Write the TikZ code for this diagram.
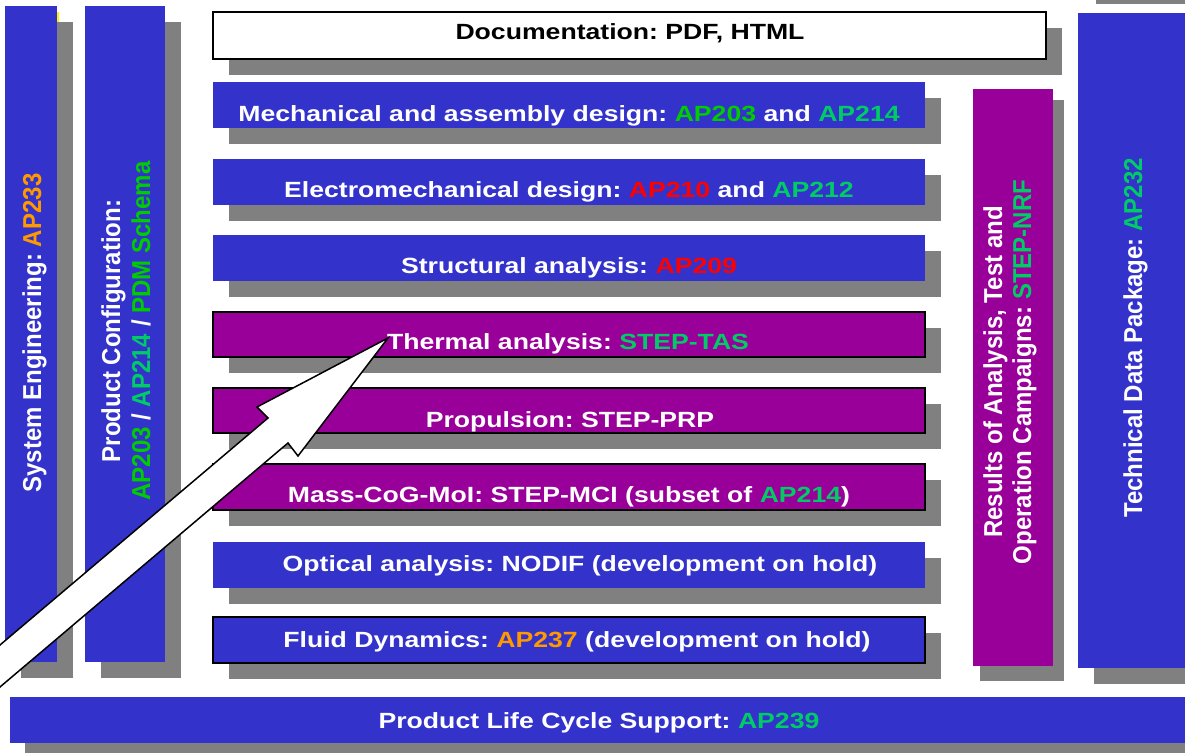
\documentclass[tikz,border=0pt]{standalone}
\usepackage{fontspec}
\setmainfont{Liberation Sans}
\usetikzlibrary{shadows}
\frenchspacing
\definecolor{myblue}{HTML}{3333CC}
\definecolor{mypurple}{HTML}{990099}
\definecolor{shgray}{HTML}{808080}
\definecolor{gA}{HTML}{00CC00}
\definecolor{gB}{HTML}{00CC66}
\definecolor{myorange}{HTML}{FF9900}
\definecolor{myred}{HTML}{FF0000}
\tikzset{
  sh/.style={general shadow={fill=shgray, shadow xshift=16pt, shadow yshift=-16pt}},
  bx/.style={anchor=north west, inner sep=0pt, outer sep=0pt, sh},
  bluebox/.style={bx, fill=myblue},
  purplebox/.style={bx, fill=mypurple},
  edged/.style={draw=black, line width=1.5pt},
  htxt/.style={anchor=base, inner sep=0pt, text=white, xscale=1.21,
    font=\fontsize{22}{26}\selectfont\bfseries},
  vtxt/.style={anchor=base, inner sep=0pt, text=white, rotate=90, yscale=1.08,
    font=\fontsize{24}{28}\selectfont\bfseries},
  bigarrow/.style={fill=white, draw=black, line width=1.5pt, line join=miter}
}
\begin{document}
\begin{tikzpicture}[x=1pt,y=-1pt]
\useasboundingbox (0,0) rectangle (1185,752);
\clip (0,0) rectangle (1185,752);
% stray details at the edges
\fill[shgray] (1096,-5) rectangle (1190,4);
\fill[yellow] (57,12) rectangle (59,22);
% left columns
\node[bluebox, minimum width=52pt, minimum height=656pt] (col1) at (5,6) {};
\node[bluebox, minimum width=80pt, minimum height=656pt] (col2) at (85,6) {};
% rows
\node[bx, fill=white, edged, minimum width=833pt, minimum height=47pt] (doc) at (213,12) {};
\node[bluebox, minimum width=712pt, minimum height=46pt] (mech) at (213,82) {};
\node[bluebox, minimum width=712pt, minimum height=46pt] (elec) at (213,159) {};
\node[bluebox, minimum width=712pt, minimum height=46pt] (struct) at (213,235) {};
\node[purplebox, edged, minimum width=712pt, minimum height=45pt] (therm) at (213,312) {};
\node[purplebox, edged, minimum width=712pt, minimum height=45pt] (prop) at (213,388) {};
\node[purplebox, edged, minimum width=712pt, minimum height=46pt] (mass) at (213,464) {};
\node[bluebox, minimum width=712pt, minimum height=46pt] (optic) at (213,542) {};
\node[bluebox, edged, minimum width=712pt, minimum height=46pt] (fluid) at (213,617) {};
% right columns
\fill[shgray] (980,100) rectangle (1064,681);
\node[anchor=north west, inner sep=0pt, outer sep=0pt, fill=mypurple, minimum width=80pt, minimum height=577pt] (res) at (973,89) {};
\node[bluebox, minimum width=130pt, minimum height=655pt] (tdp) at (1078,13) {};
% bottom bar
\node[anchor=north west, inner sep=0pt, outer sep=0pt, general shadow={fill=shgray, shadow xshift=15pt, shadow yshift=-16pt}, fill=myblue, minimum width=1200pt, minimum height=46pt] (plc) at (10,697) {};
% horizontal texts
\node[htxt, text=black] (tdoc) at (630,40) {Documentation: PDF, HTML};
\node[htxt] (tmech) at (569,121) {Mechanical and assembly design: \textcolor{gA}{AP203} and \textcolor{gB}{AP214}};
\node[htxt] (telec) at (569,197) {Electromechanical design: \textcolor{myred}{AP210} and \textcolor{gB}{AP212}};
\node[htxt] (tstruct) at (569,273) {Structural analysis: \textcolor{myred}{AP209}};
\node[htxt] (ttherm) at (568,349) {Thermal analysis: \textcolor{gB}{STEP-TAS}};
\node[htxt] (tprop) at (570,427) {Propulsion: STEP-PRP};
\node[htxt] (tmass) at (569,502) {Mass-CoG-MoI: STEP-MCI (subset of \textcolor{gB}{AP214})};
\node[htxt] (toptic) at (580,571) {Optical analysis: NODIF (development on hold)};
\node[htxt] (tfluid) at (577,647) {Fluid Dynamics: \textcolor{myorange}{AP237} (development on hold)};
\node[htxt] (tplc) at (599,728) {Product Life Cycle Support: \textcolor{gB}{AP239}};
% vertical texts
\node[vtxt] (tcol1) at (41,333) {System Engineering: \textcolor{myorange}{AP233}};
\node[vtxt] (tcol2a) at (120,331) {Product Configuration:};
\node[vtxt] (tcol2b) at (150,331) {\textcolor{gA}{AP203} / \textcolor{gB}{AP214} / \textcolor{gA}{PDM Schema}};
\node[vtxt] (tresa) at (1002,372) {Results of Analysis, Test and};
\node[vtxt] (tresb) at (1031,372) {Operation Campaigns: \textcolor{gB}{STEP-NRF}};
\node[vtxt] (ttdp) at (1142,338) {Technical Data Package: \textcolor{gB}{AP232}};
% big arrow
\draw[bigarrow] (-60,737.8) -- (288,443) -- (298,456) -- (388,338) -- (257,407) -- (268,418) -- (-60,695.8) -- cycle;
\end{tikzpicture}
\end{document}
